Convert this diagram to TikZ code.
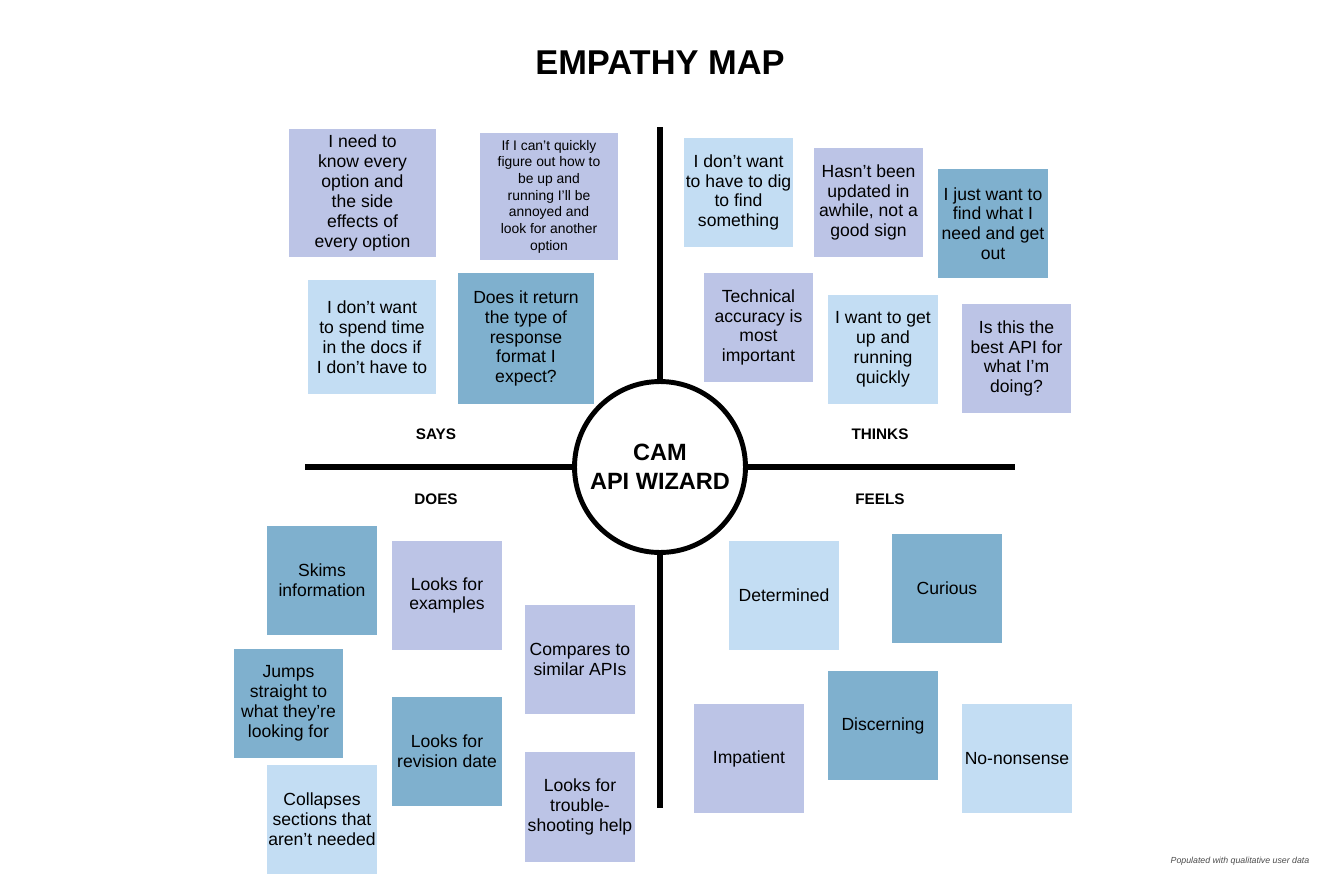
\documentclass[tikz,border=0pt]{standalone}
\usepackage{fontspec}
\setmainfont{Liberation Sans}
\definecolor{lav}{HTML}{BCC4E6}
\definecolor{sky}{HTML}{C3DDF3}
\definecolor{steel}{HTML}{7FB0CE}
\tikzset{
  note/.style={fill=#1, inner sep=0pt, align=center, minimum width=2.2cm, minimum height=2.2cm,
    font=\fontsize{10}{11.3}\selectfont},
  quad/.style={font=\bfseries\fontsize{8.7}{10}\selectfont},
  bar/.style={line width=3.4pt},
}
\begin{document}
\begin{tikzpicture}[x=0.02cm, y=-0.02cm]
	\useasboundingbox[fill=white] (0,0) rectangle (1320,880);
	\path(660,63)  node[font=\bfseries\fontsize{19.6}{22}\selectfont](title) {EMPATHY MAP};
	% hub and axes
	\path(660,467) node[draw, line width=2.8pt, fill=white, shape=circle, minimum size=3.42cm, align=center,
	  font=\bfseries\fontsize{13.4}{16.4}\selectfont](hub) {CAM\\API WIZARD};
	\coordinate (top) at (660,127);
	\coordinate (bot) at (660,808);
	\coordinate (lft) at (305,467);
	\coordinate (rgt) at (1015,467);
	\draw[bar] (top) -- (hub.north);
	\draw[bar] (hub.south) -- (bot);
	\draw[bar] (lft) -- (hub.west);
	\draw[bar] (hub.east) -- (rgt);
	\path(436,434) node[quad](says) {SAYS};
	\path(880,434) node[quad](thinks) {THINKS};
	\path(436,499) node[quad](does) {DOES};
	\path(880,499) node[quad](feels) {FEELS};
	% says
	\path(362.5,193) node[note=lav, minimum width=2.94cm, minimum height=2.56cm](S1) {I need to\\know every\\option and\\the side\\effects of\\every option};
	\path(549,196.5) node[note=lav, minimum width=2.76cm, minimum height=2.54cm, font=\fontsize{7.9}{9.5}\selectfont](S2) {If I can’t quickly\\figure out how to\\be up and\\running I’ll be\\annoyed and\\look for another\\option};
	\path(372,337)   node[note=sky, minimum width=2.56cm, minimum height=2.28cm](S3) {I don’t want\\to spend time\\in the docs if\\I don’t have to};
	\path(526,338.5) node[note=steel, minimum width=2.72cm, minimum height=2.62cm](S4) {Does it return\\the type of\\response\\format I\\expect?};
	% thinks
	\path(738.5,192.5)  node[note=sky](T1) {I don’t want\\to have to dig\\to find\\something};
	\path(868.5,202.5)  node[note=lav](T2) {Hasn’t been\\updated in\\awhile, not a\\good sign};
	\path(993,223.5)    node[note=steel](T3) {I just want to\\find what I\\need and get\\out};
	\path(758.5,327.5)  node[note=lav](T4) {Technical\\accuracy is\\most\\important};
	\path(883,349.5)    node[note=sky](T5) {I want to get\\up and\\running\\quickly};
	\path(1016.5,358.5) node[note=lav](T6) {Is this the\\best API for\\what I’m\\doing?};
	% does
	\path(322,580.5)  node[note=steel](D1) {Skims\\information};
	\path(447,595.5)  node[note=lav](D2) {Looks for\\examples};
	\path(580,659.5)  node[note=lav](D3) {Compares to\\similar APIs};
	\path(288.5,703.5) node[note=steel](D4) {Jumps\\straight to\\what they’re\\looking for};
	\path(447,751.5)  node[note=steel](D5) {Looks for\\revision date};
	\path(322,819.5)  node[note=sky](D6) {Collapses\\sections that\\aren’t needed};
	\path(580,807)    node[note=lav](D7) {Looks for\\trouble-\\shooting help};
	% feels
	\path(784,595.5)  node[note=sky](F1) {Determined};
	\path(947,588.5)  node[note=steel](F2) {Curious};
	\path(883,725.5)  node[note=steel](F3) {Discerning};
	\path(749,758.5)  node[note=lav](F4) {Impatient};
	\path(1017,758.5) node[note=sky](F5) {No-nonsense};
	\path(1240,861) node[font=\itshape\fontsize{5}{6}\selectfont, text=black!70](foot) {Populated with qualitative user data};
\end{tikzpicture}
\end{document}
